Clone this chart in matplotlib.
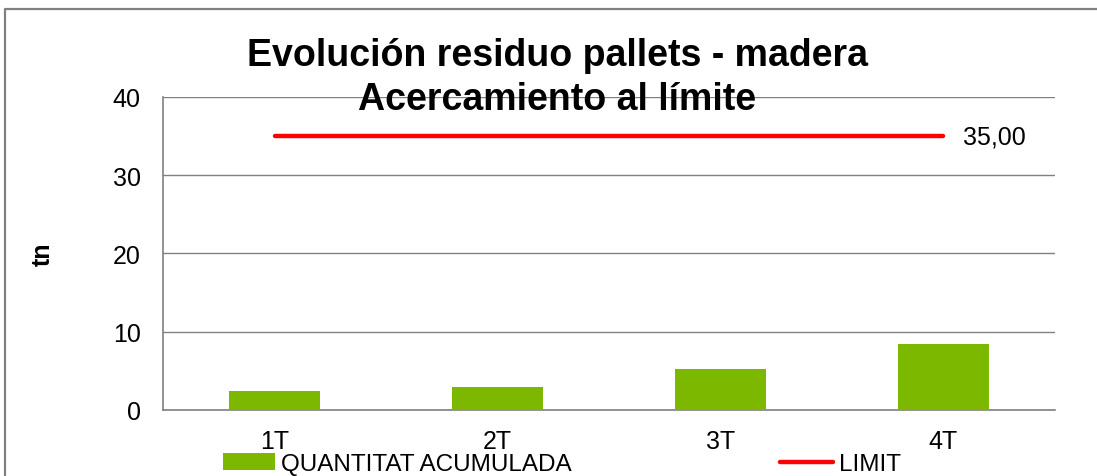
import matplotlib
matplotlib.use("Agg")
import matplotlib.pyplot as plt
from matplotlib.lines import Line2D

# Data
quarters = ['1T', '2T', '3T', '4T']
quantitat = [2.4, 3.0, 5.3, 8.4]
limit = [35, 35, 35, 35]

plt.rcParams['font.family'] = ['Liberation Sans', 'DejaVu Sans']

fig = plt.figure(figsize=(10.97, 4.77), dpi=100)
ax = fig.add_axes([0.1486, 0.1384, 0.8131, 0.6562])

x = range(len(quarters))
bars = ax.bar(x, quantitat, width=0.41, color='#7cb800', label='QUANTITAT ACUMULADA', zorder=3)
line, = ax.plot(x, limit, color='#ff0000', linewidth=3.2, solid_capstyle='round',
                label='LIMIT', zorder=4)
ax.annotate('35,00', (x[-1], limit[-1]), xytext=(14, 0), textcoords='offset points',
            va='center', ha='left', fontsize=18)

ax.set_xlim(-0.5, len(quarters) - 0.5)
ax.set_ylim(0, 40)
ax.set_yticks([0, 10, 20, 30, 40])
ax.set_xticks(list(x))
ax.set_xticklabels(quarters)
ax.tick_params(axis='both', labelsize=18, colors='black')
ax.tick_params(axis='y', length=0, pad=16)
ax.tick_params(axis='x', length=0, pad=14)
ax.grid(axis='y', color='#808080', linewidth=1, zorder=0)
for s in ['top', 'right']:
    ax.spines[s].set_visible(False)
for s in ['left', 'bottom']:
    ax.spines[s].set_color('#808080')
    ax.spines[s].set_linewidth(1.2)

ax.set_ylabel('tn', fontsize=18, fontweight='bold', labelpad=42)
fig.text(0.508, 0.882, 'Evolución residuo pallets - madera', ha='center', va='center',
         fontsize=27, fontweight='bold')
fig.text(0.508, 0.79, 'Acercamiento al límite', ha='center', va='center',
         fontsize=27, fontweight='bold')

fig.legend(handles=[bars, line], loc='center', bbox_to_anchor=(0.512, 0.025), ncol=2,
           frameon=False, fontsize=17.5, handlelength=2.15, handletextpad=0.25,
           columnspacing=8.6)

# chart border (left and top only)
fig.lines.append(Line2D([0.005, 0.005, 1.0], [0.0, 0.979, 0.979], transform=fig.transFigure,
                        color='#808080', linewidth=1.6))

fig.savefig('out.png', dpi=100)
